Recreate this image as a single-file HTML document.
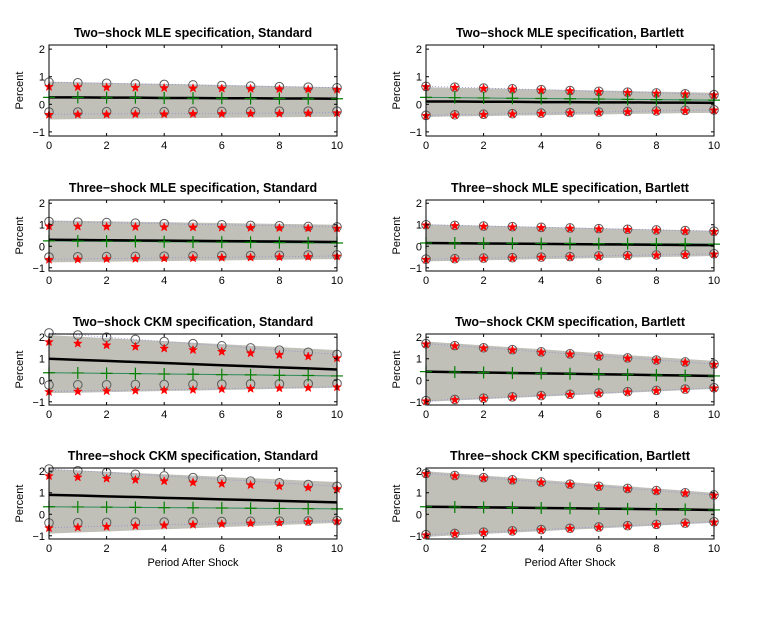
<!DOCTYPE html>
<html><head><meta charset="utf-8"><style>
html,body{margin:0;padding:0;background:#fff;}
svg{display:block;font-family:"Liberation Sans",Arial,sans-serif;}
</style></head><body>
<svg id="fig" width="772" height="617" viewBox="0 0 772 617"></svg>
<script>
const periods=[0,1,2,3,4,5,6,7,8,9,10];
const xTicks=[0,2,4,6,8,10];
const yTicks=[-1,0,1,2];
const titles=["Two\u2212shock MLE specification, Standard","Two\u2212shock MLE specification, Bartlett","Three\u2212shock MLE specification, Standard","Three\u2212shock MLE specification, Bartlett","Two\u2212shock CKM specification, Standard","Two\u2212shock CKM specification, Bartlett","Three\u2212shock CKM specification, Standard","Three\u2212shock CKM specification, Bartlett"];
const bandUpper=[
[0.82,0.80,0.78,0.76,0.74,0.72,0.70,0.68,0.66,0.64,0.62],
[0.62,0.60,0.58,0.56,0.54,0.52,0.50,0.48,0.46,0.44,0.42],
[1.20,1.18,1.16,1.14,1.12,1.10,1.08,1.06,1.04,1.02,1.00],
[1.02,0.99,0.96,0.93,0.90,0.87,0.84,0.81,0.78,0.75,0.72],
[2.10,2.03,1.96,1.89,1.82,1.75,1.68,1.61,1.54,1.47,1.40],
[1.80,1.71,1.62,1.53,1.44,1.35,1.26,1.17,1.08,0.99,0.90],
[2.10,2.04,1.98,1.92,1.86,1.80,1.74,1.68,1.62,1.56,1.50],
[2.00,1.90,1.80,1.70,1.60,1.50,1.40,1.30,1.20,1.10,1.00]];
const bandLower=[
[-0.55,-0.54,-0.53,-0.52,-0.51,-0.50,-0.49,-0.48,-0.47,-0.46,-0.45],
[-0.46,-0.44,-0.43,-0.41,-0.40,-0.38,-0.37,-0.35,-0.34,-0.32,-0.31],
[-0.75,-0.73,-0.72,-0.70,-0.69,-0.67,-0.66,-0.64,-0.63,-0.61,-0.60],
[-0.70,-0.68,-0.65,-0.63,-0.60,-0.58,-0.55,-0.53,-0.50,-0.48,-0.45],
[-0.60,-0.58,-0.55,-0.53,-0.50,-0.48,-0.45,-0.43,-0.40,-0.38,-0.35],
[-1.00,-0.94,-0.88,-0.82,-0.76,-0.70,-0.64,-0.58,-0.52,-0.46,-0.40],
[-0.90,-0.85,-0.80,-0.75,-0.70,-0.65,-0.60,-0.55,-0.50,-0.45,-0.40],
[-1.05,-0.98,-0.92,-0.85,-0.79,-0.72,-0.66,-0.59,-0.53,-0.46,-0.40]];
const estimate=[
[0.25,0.25,0.24,0.24,0.23,0.23,0.22,0.22,0.21,0.21,0.20],
[0.10,0.10,0.09,0.09,0.08,0.08,0.07,0.07,0.06,0.06,0.05],
[0.30,0.29,0.28,0.27,0.26,0.25,0.24,0.23,0.22,0.21,0.20],
[0.15,0.14,0.13,0.12,0.11,0.10,0.09,0.08,0.07,0.06,0.05],
[1.00,0.95,0.90,0.85,0.80,0.75,0.70,0.65,0.60,0.55,0.50],
[0.40,0.38,0.36,0.34,0.32,0.30,0.28,0.26,0.24,0.22,0.20],
[0.90,0.87,0.83,0.80,0.76,0.73,0.69,0.66,0.62,0.59,0.55],
[0.35,0.34,0.32,0.31,0.29,0.28,0.26,0.25,0.23,0.22,0.20]];
const meanDraw=[
[0.25,0.25,0.24,0.24,0.23,0.22,0.22,0.21,0.21,0.20,0.20],
[0.25,0.24,0.23,0.22,0.21,0.20,0.19,0.18,0.17,0.16,0.15],
[0.25,0.24,0.23,0.22,0.21,0.20,0.19,0.18,0.17,0.16,0.15],
[0.15,0.15,0.14,0.14,0.13,0.13,0.12,0.12,0.11,0.11,0.10],
[0.35,0.34,0.32,0.31,0.29,0.28,0.26,0.25,0.23,0.22,0.20],
[0.40,0.38,0.36,0.34,0.32,0.30,0.28,0.26,0.24,0.22,0.20],
[0.35,0.34,0.33,0.32,0.31,0.30,0.29,0.28,0.27,0.26,0.25],
[0.35,0.34,0.32,0.31,0.29,0.28,0.26,0.25,0.23,0.22,0.20]];
const circleUpper=[
[0.80,0.78,0.76,0.74,0.72,0.70,0.68,0.66,0.64,0.62,0.60],
[0.65,0.62,0.59,0.56,0.53,0.50,0.47,0.44,0.41,0.38,0.35],
[1.15,1.12,1.10,1.07,1.05,1.02,1.00,0.97,0.95,0.92,0.90],
[1.00,0.97,0.94,0.91,0.88,0.85,0.82,0.79,0.76,0.73,0.70],
[2.20,2.10,2.00,1.90,1.80,1.70,1.60,1.50,1.40,1.30,1.20],
[1.70,1.61,1.51,1.42,1.32,1.23,1.13,1.04,0.94,0.85,0.75],
[2.10,2.02,1.94,1.86,1.78,1.70,1.62,1.54,1.46,1.38,1.30],
[1.90,1.80,1.70,1.60,1.50,1.40,1.30,1.20,1.10,1.00,0.90]];
const circleLower=[
[-0.28,-0.28,-0.27,-0.27,-0.27,-0.26,-0.26,-0.26,-0.25,-0.25,-0.25],
[-0.40,-0.38,-0.36,-0.34,-0.32,-0.30,-0.28,-0.26,-0.24,-0.22,-0.20],
[-0.50,-0.49,-0.48,-0.47,-0.46,-0.45,-0.44,-0.43,-0.42,-0.41,-0.40],
[-0.60,-0.58,-0.55,-0.53,-0.50,-0.48,-0.45,-0.43,-0.40,-0.38,-0.35],
[-0.22,-0.21,-0.21,-0.20,-0.20,-0.19,-0.18,-0.17,-0.17,-0.16,-0.15],
[-0.95,-0.89,-0.83,-0.77,-0.71,-0.65,-0.59,-0.53,-0.47,-0.41,-0.35],
[-0.40,-0.39,-0.38,-0.37,-0.36,-0.35,-0.34,-0.33,-0.32,-0.31,-0.30],
[-0.95,-0.89,-0.83,-0.77,-0.71,-0.65,-0.59,-0.53,-0.47,-0.41,-0.35]];
const starUpper=[
[0.65,0.64,0.63,0.62,0.61,0.60,0.59,0.58,0.57,0.56,0.55],
[0.65,0.62,0.59,0.56,0.53,0.50,0.47,0.44,0.41,0.38,0.35],
[0.95,0.94,0.93,0.92,0.91,0.90,0.89,0.88,0.87,0.86,0.85],
[1.00,0.97,0.94,0.91,0.88,0.85,0.82,0.79,0.76,0.73,0.70],
[1.80,1.73,1.65,1.58,1.50,1.43,1.35,1.28,1.20,1.13,1.05],
[1.70,1.61,1.51,1.42,1.32,1.23,1.13,1.04,0.94,0.85,0.75],
[1.80,1.74,1.68,1.62,1.56,1.50,1.44,1.38,1.32,1.26,1.20],
[1.90,1.80,1.70,1.60,1.50,1.40,1.30,1.20,1.10,1.00,0.90]];
const starLower=[
[-0.36,-0.35,-0.35,-0.34,-0.34,-0.33,-0.33,-0.32,-0.32,-0.31,-0.30],
[-0.40,-0.38,-0.36,-0.34,-0.32,-0.30,-0.28,-0.26,-0.24,-0.22,-0.20],
[-0.60,-0.59,-0.57,-0.56,-0.54,-0.53,-0.51,-0.50,-0.48,-0.47,-0.45],
[-0.60,-0.58,-0.55,-0.53,-0.50,-0.48,-0.45,-0.43,-0.40,-0.38,-0.35],
[-0.52,-0.50,-0.48,-0.46,-0.44,-0.42,-0.39,-0.37,-0.35,-0.33,-0.30],
[-0.95,-0.89,-0.83,-0.77,-0.71,-0.65,-0.59,-0.53,-0.47,-0.41,-0.35],
[-0.62,-0.59,-0.56,-0.52,-0.49,-0.46,-0.43,-0.40,-0.37,-0.33,-0.30],
[-0.95,-0.89,-0.83,-0.77,-0.71,-0.65,-0.59,-0.53,-0.47,-0.41,-0.35]];

const NS="http://www.w3.org/2000/svg";
const svg=document.getElementById('fig');
const colsX=[[49,337],[426,714]];
const rowsY=[[45,136],[200,271],[334,405],[468,539]];
const yMin=-1.15,yMax=2.15,xMin=0,xMax=10;
function mk(tag,attrs,parent){const e=document.createElementNS(NS,tag);for(const k in attrs)e.setAttribute(k,attrs[k]);(parent||svg).appendChild(e);return e;}
function starPath(cx,cy,r){let d='';for(let i=0;i<10;i++){const a=-Math.PI/2+i*Math.PI/5;const rr=i%2?r*0.42:r;d+=(i?'L':'M')+(cx+rr*Math.cos(a)).toFixed(2)+','+(cy+rr*Math.sin(a)).toFixed(2);}return d+'Z';}

for(let p=0;p<8;p++){
  const c=p%2,r=Math.floor(p/2);
  const [x0,x1]=colsX[c],[y0,y1]=rowsY[r];
  const sx=v=>x0+(v-xMin)/(xMax-xMin)*(x1-x0);
  const sy=v=>y1-(v-yMin)/(yMax-yMin)*(y1-y0);
  const g=mk('g',{});
  
  
  let d='';periods.forEach((t,i)=>{d+=(i?'L':'M')+sx(t)+','+sy(bandUpper[p][i]);});
  for(let i=periods.length-1;i>=0;i--)d+='L'+sx(periods[i])+','+sy(bandLower[p][i]);
  const band=mk('path',{d:d+'Z',fill:'#c0c0b9',stroke:'none'},g);
  
  
  [circleUpper,starLower].forEach(arr=>{
    const pts=periods.map((t,i)=>sx(t)+','+sy(arr[p][i])).join(' ');
    const pl=mk('polyline',{points:pts,fill:'none',stroke:'#8f8fd8','stroke-width':0.8,'stroke-dasharray':'1,2'},g);
    
    
  });
  const gl=mk('polyline',{points:periods.map((t,i)=>sx(t)+','+sy(meanDraw[p][i])).join(' '),fill:'none',stroke:'#2e8b57','stroke-width':1},g);
  
  
  const el=mk('polyline',{points:periods.map((t,i)=>sx(t)+','+sy(estimate[p][i])).join(' '),fill:'none',stroke:'#000','stroke-width':2.5},g);
  
  
  periods.forEach((t,i)=>{
    const X=sx(t);
    [circleUpper,circleLower].forEach(arr=>{
      const ci=mk('circle',{cx:X,cy:sy(arr[p][i]),r:4.3,fill:'none',stroke:'#5a5a5a','stroke-width':1},g);
      
      
    });
    [starUpper,starLower].forEach(arr=>{
      const st=mk('path',{d:starPath(X,sy(arr[p][i])+0.5,4.5),fill:'#ff0000',stroke:'#ff0000','stroke-width':0.5},g);
      
      
    });
    const Y=sy(meanDraw[p][i]);
    const pm=mk('path',{d:`M${X-6},${Y}H${X+6}M${X},${Y-6}V${Y+6}`,stroke:'#008000','stroke-width':1.2,fill:'none'},g);
    
    
  });
  const bx=mk('rect',{x:x0,y:y0,width:x1-x0,height:y1-y0,fill:'none',stroke:'#000','stroke-width':1},g);
  
  
  xTicks.forEach(t=>{
    const X=sx(t);
    mk('line',{x1:X,x2:X,y1:y1,y2:y1-3,stroke:'#000'},g);
    mk('line',{x1:X,x2:X,y1:y0,y2:y0+3,stroke:'#000'},g);
    const tx=mk('text',{x:X,y:y1+13,'font-size':11,'text-anchor':'middle'},g);
    tx.textContent=t;
    
    
  });
  yTicks.forEach(t=>{
    const Y=sy(t);
    mk('line',{x1:x0,x2:x0+3,y1:Y,y2:Y,stroke:'#000'},g);
    mk('line',{x1:x1,x2:x1-3,y1:Y,y2:Y,stroke:'#000'},g);
    const ty=mk('text',{x:x0-4,y:Y+4,'font-size':11,'text-anchor':'end'},g);
    ty.textContent=t<0?'\u2212'+(-t):t;
    
    
  });
  const tt=mk('text',{x:(x0+x1)/2,y:y0-8,'font-size':12.5,'font-weight':'bold','text-anchor':'middle'},g);
  tt.textContent=titles[p];
  
  
  const yl=mk('text',{x:0,y:0,'font-size':11,'text-anchor':'middle',transform:`translate(${x0-26},${(y0+y1)/2}) rotate(-90)`},g);
  yl.textContent='Percent';
  
  
  if(r===3){
    const xl=mk('text',{x:(x0+x1)/2,y:y1+27,'font-size':11,'text-anchor':'middle'},g);
    xl.textContent='Period After Shock';
    
    
  }
}
</script>
</body></html>
